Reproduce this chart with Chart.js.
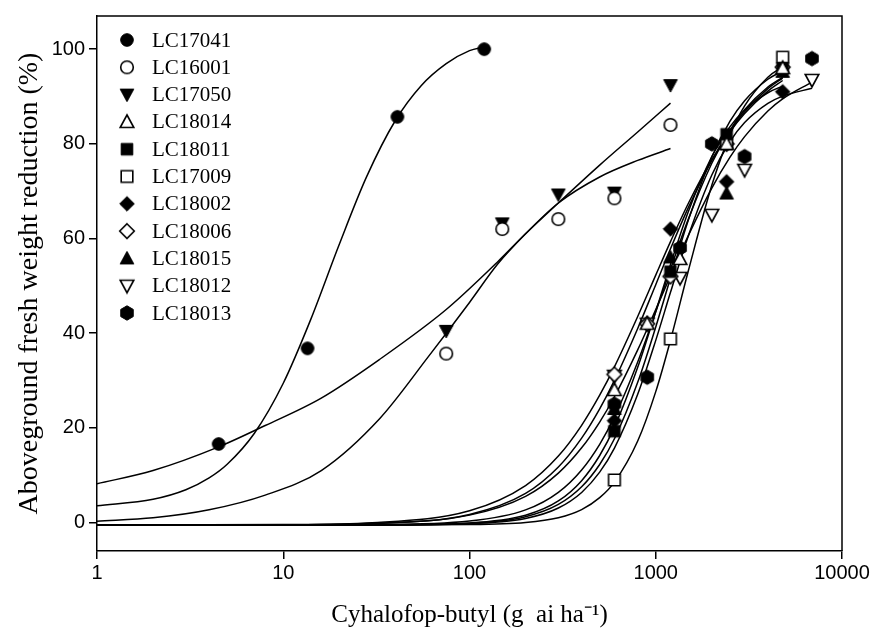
<!DOCTYPE html>
<html><head><meta charset="utf-8">
<script src="https://cdn.jsdelivr.net/npm/chart.js@4.4.1/dist/chart.umd.min.js"></script>
<style>html,body{margin:0;padding:0;background:#fff;}#wrap{width:873px;height:630px;}</style>
</head><body><div id="wrap"><canvas id="c" width="873" height="630"></canvas></div>
<script>
// ---------- tick labels ----------
const xTicks = [1, 10, 100, 1000, 10000];
const yTicks = [0, 20, 40, 60, 80, 100];
const seriesNames = ['LC17041','LC16001','LC17050','LC18014','LC18011','LC17009','LC18002','LC18006','LC18015','LC18012','LC18013'];

// ---------- observed points (dose, reduction %) ----------
const lc17041Dose = [4.5, 13.5, 41, 120];
const lc17041Red  = [16.6, 36.8, 85.7, 100];
const lc16001Dose = [75, 150, 300, 600, 1200];
const lc16001Red  = [35.7, 62, 64.1, 68.5, 84];
const lc17050Dose = [75, 150, 300, 600, 1200];
const lc17050Red  = [40.5, 63.2, 69.3, 69.7, 92.4];
const lc18014Dose = [600, 900, 1350, 2400, 4800];
const lc18014Red  = [28, 42, 55.7, 80, 96];
const lc18011Dose = [600, 1200, 2400, 4800];
const lc18011Red  = [19.3, 53, 82, 96];
const lc17009Dose = [600, 1200, 2400, 4800];
const lc17009Red  = [9, 38.8, 80, 98.3];
const lc18002Dose = [600, 1200, 2400, 4800];
const lc18002Red  = [21.5, 62, 72, 91];
const lc18006Dose = [600, 900, 1200, 2400, 4800];
const lc18006Red  = [31.3, 42, 52, 80, 96.2];
const lc18015Dose = [600, 1200, 2400, 4800];
const lc18015Red  = [24, 56, 69.5, 95.2];
const lc18012Dose = [600, 900, 1350, 2000, 3000, 6900];
const lc18012Red  = [31, 42, 51.7, 65, 74.5, 93.5];
const lc18013Dose = [600, 900, 1350, 2000, 3000, 6900];
const lc18013Red  = [25, 30.7, 58, 80, 77.3, 98];

// ---------- fitted curves ----------
const lc17041FitDose = [1, 2, 3, 4, 5, 7, 10, 14, 20, 28, 40, 55, 75, 100, 120];
const lc17041FitRed  = [3.56, 4.93, 6.94, 9.44, 12.32, 18.88, 29.43, 42.76, 58.8, 73.02, 84.93, 92.28, 96.94, 99.68, 100.5];
const lc16001FitDose = [1, 2, 4, 8, 16, 33, 60, 100, 141, 200, 300, 500, 800, 1200];
const lc16001FitRed  = [0.3, 1, 2.7, 5.8, 11, 22, 35, 46.5, 54.5, 61, 67.5, 73, 76.5, 79];
const lc17050FitDose = [1, 2, 4.5, 8, 16, 33, 75, 141, 200, 300, 500, 800, 1200];
const lc17050FitRed  = [8.2, 11, 16, 20.5, 26.3, 34.5, 45, 55, 61, 67.5, 75.5, 82.5, 88.6];
const clusterFitDose = [1, 10, 30, 100, 200, 300, 400, 500, 600, 800, 1000, 1200, 1500, 2000, 2500, 3000, 4000, 4800];
const clusterFitDoseLong = [1, 10, 30, 100, 200, 300, 400, 500, 600, 800, 1000, 1200, 1500, 2000, 2500, 3000, 4000, 4800, 6900];
const lc18014FitRed = [-0.5, -0.45, -0.19, 1.72, 6.16, 11.74, 17.84, 24.02, 30.04, 41.01, 50.25, 57.83, 66.62, 76.47, 82.66, 86.76, 91.65, 93.9];
const lc18011FitRed = [-0.5, -0.5, -0.48, -0.14, 1.25, 3.83, 7.56, 12.27, 17.7, 29.62, 41.32, 51.68, 64, 77.23, 84.72, 89.12, 93.64, 95.41];
const lc17009FitRed = [-0.5, -0.5, -0.5, -0.42, 0.02, 1.03, 2.75, 5.26, 8.55, 17.22, 27.66, 38.52, 53.34, 71.24, 81.84, 88.03, 94.08, 96.29];
const lc18002FitRed = [-0.5, -0.5, -0.47, -0.07, 1.56, 4.57, 8.86, 14.17, 20.16, 32.79, 44.58, 54.53, 65.81, 77.32, 83.57, 87.16, 90.79, 92.19];
const lc18006FitRed = [-0.5, -0.41, -0.02, 2.51, 7.83, 14.06, 20.55, 26.9, 32.9, 43.53, 52.27, 59.34, 67.5, 76.66, 82.48, 86.39, 91.13, 93.38];
const lc18015FitRed = [-0.5, -0.49, -0.43, 0.32, 2.68, 6.39, 11.12, 16.54, 22.32, 33.92, 44.52, 53.57, 64.2, 75.89, 82.86, 87.21, 92.01, 94.04];
const lc18012FitRed = [-0.5, -0.45, -0.19, 1.58, 5.54, 10.45, 15.79, 21.24, 26.58, 36.47, 45, 52.17, 60.72, 70.66, 77.13, 81.52, 86.92, 89.48, 93.04];
const lc18013FitRed = [-0.5, -0.5, -0.49, -0.23, 0.88, 3.08, 6.37, 10.65, 15.72, 27.09, 38.49, 48.64, 60.67, 73.41, 80.44, 84.49, 88.53, 90.07, 91.75];

// ---------- marker images ----------
function makeMarker(shape, filled) {
  const c = document.createElement('canvas');
  c.width = 18; c.height = 18;
  const g = c.getContext('2d');
  const cx = 9, cy = 9;
  g.beginPath();
  if (shape === 'circle') { g.arc(cx, cy, 6.3, 0, Math.PI * 2); }
  else if (shape === 'square') { g.rect(cx - 5.8, cy - 5.8, 11.6, 11.6); }
  else if (shape === 'diamond') { g.moveTo(cx, cy - 7.3); g.lineTo(cx + 7.3, cy); g.lineTo(cx, cy + 7.3); g.lineTo(cx - 7.3, cy); g.closePath(); }
  else if (shape === 'up') { g.moveTo(cx, cy - 7); g.lineTo(cx + 6.8, cy + 5.5); g.lineTo(cx - 6.8, cy + 5.5); g.closePath(); }
  else if (shape === 'down') { g.moveTo(cx, cy + 7); g.lineTo(cx + 6.8, cy - 5.5); g.lineTo(cx - 6.8, cy - 5.5); g.closePath(); }
  else if (shape === 'hex') { for (let k = 0; k < 6; k++) { const a = Math.PI / 2 + k * Math.PI / 3; const px = cx + 7.2 * Math.cos(a), py = cy + 7.2 * Math.sin(a); if (k === 0) g.moveTo(px, py); else g.lineTo(px, py); } g.closePath(); }
  g.fillStyle = filled ? '#000' : '#fff';
  g.fill();
  g.lineWidth = filled ? 1 : 1.6;
  g.strokeStyle = '#000';
  g.stroke();
  return c;
}

const markerDefs = {
  LC17041: ['circle', true], LC16001: ['circle', false], LC17050: ['down', true],
  LC18014: ['up', false], LC18011: ['square', true], LC17009: ['square', false],
  LC18002: ['diamond', true], LC18006: ['diamond', false], LC18015: ['up', true],
  LC18012: ['down', false], LC18013: ['hex', true]
};
const markerImgs = {};
seriesNames.forEach(n => { markerImgs[n] = makeMarker(markerDefs[n][0], markerDefs[n][1]); });

function pts(xs, ys) { return xs.map((x, i) => ({ x: x, y: ys[i] })); }

const observed = {
  LC17041: pts(lc17041Dose, lc17041Red), LC16001: pts(lc16001Dose, lc16001Red),
  LC17050: pts(lc17050Dose, lc17050Red), LC18014: pts(lc18014Dose, lc18014Red),
  LC18011: pts(lc18011Dose, lc18011Red), LC17009: pts(lc17009Dose, lc17009Red),
  LC18002: pts(lc18002Dose, lc18002Red), LC18006: pts(lc18006Dose, lc18006Red),
  LC18015: pts(lc18015Dose, lc18015Red), LC18012: pts(lc18012Dose, lc18012Red),
  LC18013: pts(lc18013Dose, lc18013Red)
};
const fits = {
  LC17041: pts(lc17041FitDose, lc17041FitRed), LC16001: pts(lc16001FitDose, lc16001FitRed),
  LC17050: pts(lc17050FitDose, lc17050FitRed), LC18014: pts(clusterFitDose, lc18014FitRed),
  LC18011: pts(clusterFitDose, lc18011FitRed), LC17009: pts(clusterFitDose, lc17009FitRed),
  LC18002: pts(clusterFitDose, lc18002FitRed), LC18006: pts(clusterFitDose, lc18006FitRed),
  LC18015: pts(clusterFitDose, lc18015FitRed), LC18012: pts(clusterFitDoseLong, lc18012FitRed),
  LC18013: pts(clusterFitDoseLong, lc18013FitRed)
};

const datasets = [];
seriesNames.forEach(n => {
  datasets.push({
    label: n, data: observed[n], order: 0, showLine: false,
    pointStyle: markerImgs[n], pointRadius: 7, pointHoverRadius: 7,
    borderColor: '#000', backgroundColor: '#000'
  });
});
seriesNames.forEach(n => {
  datasets.push({
    label: n + ' fit', data: fits[n], order: 1, showLine: true,
    pointRadius: 0, pointHoverRadius: 0, borderColor: '#000', borderWidth: 1.5,
    cubicInterpolationMode: 'monotone', fill: false
  });
});

const frame = {
  id: 'frame',
  afterDatasetsDraw(chart) {
    const a = chart.chartArea, ctx = chart.ctx;
    ctx.save();
    ctx.strokeStyle = '#000'; ctx.lineWidth = 1.5;
    ctx.beginPath();
    ctx.moveTo(a.left, a.top); ctx.lineTo(a.right, a.top); ctx.lineTo(a.right, a.bottom);
    ctx.stroke();
    ctx.restore();
  }
};
const insideLegend = {
  id: 'insideLegend',
  afterDatasetsDraw(chart) {
    const ctx = chart.ctx;
    ctx.save();
    ctx.font = '21px "Liberation Serif"';
    ctx.textBaseline = 'middle';
    ctx.textAlign = 'left';
    ctx.fillStyle = '#000';
    seriesNames.forEach((n, i) => {
      const y = 40 + i * 27.3;
      const img = markerImgs[n];
      ctx.drawImage(img, 127 - img.width / 2, y - img.height / 2);
      ctx.fillText(n, 152, y + 1);
    });
    ctx.restore();
  }
};

Chart.defaults.font.family = '"Liberation Sans", Arial, sans-serif';
Chart.defaults.color = '#000';

new Chart(document.getElementById('c'), {
  type: 'scatter',
  data: { datasets: datasets },
  options: {
    responsive: false, animation: false, devicePixelRatio: 1,
    layout: { padding: { top: 14, right: 31, left: 0, bottom: 0 } },
    plugins: { legend: { display: false }, tooltip: { enabled: false } },
    scales: {
      x: {
        type: 'logarithmic', min: 1, max: 10000,
        afterBuildTicks: s => { s.ticks = xTicks.map(v => ({ value: v })); },
        afterFit: s => { s.height = 79; },
        ticks: { font: { size: 20 }, color: '#000', padding: 2, maxRotation: 0, callback: v => String(v) },
        grid: { drawOnChartArea: false, drawTicks: true, tickLength: 8, color: '#000', lineWidth: 1.5 },
        border: { display: true, color: '#000', width: 1.5 },
        title: { display: true, text: 'Cyhalofop-butyl (g  ai ha\u207B\u00B9)', color: '#000',
                 font: { family: '"Liberation Serif"', size: 25, lineHeight: 1.2 }, padding: { top: 0, bottom: 0 } }
      },
      y: {
        type: 'linear', min: -6, max: 107,
        afterBuildTicks: s => { s.ticks = yTicks.map(v => ({ value: v })); },
        afterFit: s => { s.width = 97; },
        ticks: { font: { size: 20 }, color: '#000', padding: 4, callback: v => String(v) },
        grid: { drawOnChartArea: false, drawTicks: true, tickLength: 8, color: '#000', lineWidth: 1.5 },
        border: { display: true, color: '#000', width: 1.5 },
        title: { display: true, text: 'Aboveground fresh weight reduction (%)', color: '#000',
                 font: { family: '"Liberation Serif"', size: 28, lineHeight: 1.2 }, padding: { top: 13, bottom: 0 } }
      }
    }
  },
  plugins: [frame, insideLegend]
});
</script>
</body></html>
